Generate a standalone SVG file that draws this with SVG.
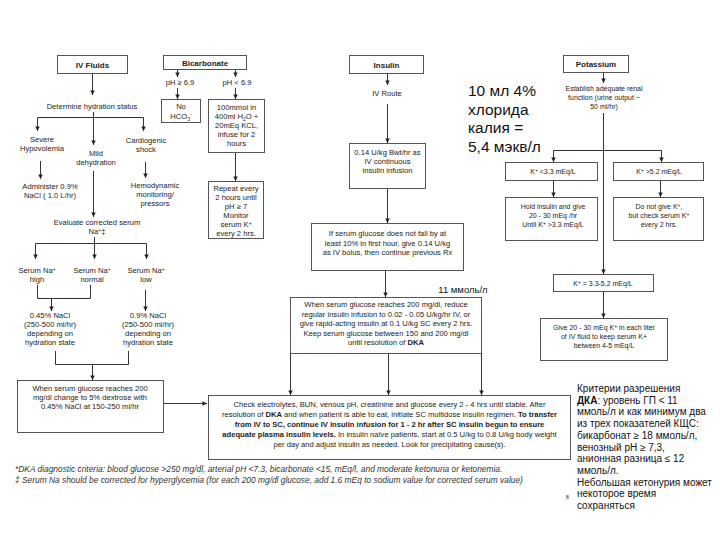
<svg xmlns="http://www.w3.org/2000/svg" width="720" height="540" viewBox="0 0 720 540">
<defs>
<marker id="ah" viewBox="0 0 6 6" refX="6" refY="3" markerWidth="5" markerHeight="4.5" orient="auto" markerUnits="userSpaceOnUse"><path d="M0,0 L6,3 L0,6 z" fill="#222"/></marker>
<style>
.t{font-family:"Liberation Sans",Arial,sans-serif;font-size:7.6px;fill:#222;text-anchor:middle}
.s{font-size:7px}
.h{font-weight:bold;font-size:8px}
.b{font-weight:bold}
.box{fill:#fff;stroke:#555;stroke-width:1}
.ln{fill:none;stroke:#333;stroke-width:1}
.ar{fill:none;stroke:#333;stroke-width:1;marker-end:url(#ah)}
.ru{font-family:"Liberation Sans",Arial,sans-serif;fill:#111}
.fn{font-family:"Liberation Sans",Arial,sans-serif;font-size:8.4px;font-style:italic;fill:#333}
</style>
</defs>
<rect width="720" height="540" fill="#fff"/>

<g id="connectors">
<!-- IV fluids -->
<line class="ar" x1="92.5" y1="73" x2="92.5" y2="95"/>
<line class="ln" x1="37.5" y1="117.5" x2="143.5" y2="117.5"/>
<line class="ar" x1="37.5" y1="117.5" x2="37.5" y2="131"/>
<line class="ar" x1="93.5" y1="112" x2="93.5" y2="145"/>
<line class="ar" x1="143.5" y1="117.5" x2="143.5" y2="131"/>
<line class="ar" x1="40.5" y1="161" x2="40.5" y2="179"/>
<line class="ar" x1="145.5" y1="162" x2="145.5" y2="178"/>
<line class="ar" x1="93.5" y1="171" x2="93.5" y2="217"/>
<line class="ln" x1="35.5" y1="243.5" x2="146.5" y2="243.5"/>
<line class="ar" x1="35.5" y1="243.5" x2="35.5" y2="259"/>
<line class="ar" x1="94.5" y1="237" x2="94.5" y2="259"/>
<line class="ar" x1="146.5" y1="243.5" x2="146.5" y2="259"/>
<polyline class="ln" points="37.5,285 37.5,298.5 90.5,298.5 90.5,285"/>
<line class="ar" x1="51.5" y1="298.5" x2="51.5" y2="311"/>
<line class="ar" x1="145.5" y1="290" x2="145.5" y2="311"/>
<polyline class="ln" points="55.5,351 55.5,364.5 128.5,364.5 128.5,351"/>
<line class="ar" x1="92.5" y1="364.5" x2="92.5" y2="380"/>
<line class="ar" x1="164" y1="403.5" x2="207" y2="403.5"/>
<!-- Bicarbonate -->
<line class="ar" x1="177.5" y1="70" x2="177.5" y2="77"/>
<line class="ar" x1="177.5" y1="88" x2="177.5" y2="99"/>
<line class="ar" x1="235.5" y1="70" x2="235.5" y2="77"/>
<line class="ar" x1="235.5" y1="88" x2="235.5" y2="99"/>
<line class="ar" x1="235.5" y1="152" x2="235.5" y2="181"/>
<!-- Insulin -->
<line class="ar" x1="387.5" y1="73" x2="387.5" y2="85"/>
<line class="ar" x1="387.5" y1="104" x2="387.5" y2="143"/>
<line class="ar" x1="387.5" y1="188" x2="387.5" y2="223"/>
<line class="ar" x1="385.5" y1="270" x2="385.5" y2="297"/>
<line class="ar" x1="290.5" y1="354" x2="290.5" y2="395"/>
<line class="ar" x1="388.5" y1="354" x2="388.5" y2="395"/>
<line class="ar" x1="481.5" y1="354" x2="481.5" y2="395"/>
<!-- Potassium -->
<line class="ar" x1="603.5" y1="72" x2="603.5" y2="83"/>
<line class="ar" x1="603.5" y1="113" x2="603.5" y2="274"/>
<line class="ln" x1="553.5" y1="150.5" x2="661.5" y2="150.5"/>
<line class="ar" x1="553.5" y1="150.5" x2="553.5" y2="162"/>
<line class="ar" x1="661.5" y1="150.5" x2="661.5" y2="162"/>
<line class="ar" x1="553.5" y1="180" x2="553.5" y2="197"/>
<line class="ar" x1="660.5" y1="180" x2="660.5" y2="197"/>
<line class="ar" x1="603.5" y1="292" x2="603.5" y2="318"/>
</g>

<!-- IV Fluids column -->
<g id="iv-fluids"><rect class="box" x="57.5" y="55.5" width="70" height="18"/><text class="t h" x="92.5" y="67.5">IV Fluids</text></g>
<g id="hydration-status"><text class="t" x="92" y="109">Determine hydration status</text></g>
<g id="severe-hypovolemia"><text class="t" x="42" y="142">Severe</text><text class="t" x="42" y="151">Hypovolemia</text></g>
<g id="mild-dehydration"><text class="t" x="96" y="156">Mild</text><text class="t" x="96" y="165">dehydration</text></g>
<g id="cardiogenic-shock"><text class="t" x="146" y="143">Cardiogenic</text><text class="t" x="146" y="152">shock</text></g>
<g id="administer"><text class="t" x="50" y="189">Administer 0.9%</text><text class="t" x="50" y="198">NaCl ( 1.0 L/hr)</text></g>
<g id="hemodynamic"><text class="t" x="155" y="188">Hemodynamic</text><text class="t" x="155" y="197">monitoring/</text><text class="t" x="155" y="206">pressors</text></g>
<g id="evaluate-na"><text class="t" x="97" y="225">Evaluate corrected serum</text><text class="t" x="97" y="234">Na<tspan font-size="5" dy="-2.5">+</tspan><tspan dy="2.5">‡</tspan></text></g>
<g id="na-high"><text class="t" x="37" y="273">Serum Na<tspan font-size="5" dy="-2.5">+</tspan></text><text class="t" x="37" y="282">high</text></g>
<g id="na-normal"><text class="t" x="92" y="273">Serum Na<tspan font-size="5" dy="-2.5">+</tspan></text><text class="t" x="92" y="282">normal</text></g>
<g id="na-low"><text class="t" x="146" y="273">Serum Na<tspan font-size="5" dy="-2.5">+</tspan></text><text class="t" x="146" y="282">low</text></g>
<g id="nacl-045"><text class="t" x="50" y="318">0.45% NaCl</text><text class="t" x="50" y="327">(250-500 ml/hr)</text><text class="t" x="50" y="336">depending on</text><text class="t" x="50" y="345">hydration state</text></g>
<g id="nacl-09"><text class="t" x="148" y="318">0.9% NaCl</text><text class="t" x="148" y="327">(250-500 ml/hr)</text><text class="t" x="148" y="336">depending on</text><text class="t" x="148" y="345">hydration state</text></g>
<g id="dextrose"><rect class="box" x="17.5" y="380.5" width="146" height="52"/><text class="t" x="90" y="391">When serum glucose  reaches 200</text><text class="t" x="90" y="400">mg/dl change to 5% dextrose with</text><text class="t" x="90" y="409">0.45% NaCl at 150-250 ml/hr</text></g>

<!-- Bicarbonate column -->
<g id="bicarbonate"><rect class="box" x="163.5" y="55.5" width="83" height="14"/><text class="t h" x="205" y="65.5">Bicarbonate</text></g>
<g id="ph-ge"><text class="t" x="180" y="85">pH ≥ 6.9</text></g>
<g id="ph-lt"><text class="t" x="237" y="85">pH &lt; 6.9</text></g>
<g id="no-hco3"><rect class="box" x="161.5" y="99.5" width="39" height="23"/><text class="t" x="181" y="109">No</text><text class="t" x="181" y="118.5">HCO<tspan font-size="5" dy="2">3</tspan><tspan font-size="5" dy="-5">-</tspan></text></g>
<g id="bicarb-infusion"><rect class="box" x="208.5" y="99.5" width="56" height="53"/><text class="t" x="236.5" y="109.5">100mmol in</text><text class="t" x="236.5" y="118.5">400ml H<tspan font-size="5" dy="2">2</tspan><tspan dy="-2">O +</tspan></text><text class="t" x="236.5" y="127.5">20mEq KCL,</text><text class="t" x="236.5" y="136.5">infuse for 2</text><text class="t" x="236.5" y="145.5">hours</text></g>
<g id="repeat"><rect class="box" x="208.5" y="181.5" width="55" height="57"/><text class="t" x="236" y="191">Repeat every</text><text class="t" x="236" y="200">2 hours until</text><text class="t" x="236" y="209">pH ≥ 7</text><text class="t" x="236" y="218">Monitor</text><text class="t" x="236" y="227">serum K<tspan font-size="5" dy="-2.5">+</tspan></text><text class="t" x="236" y="236">every 2 hrs.</text></g>

<!-- Insulin column -->
<g id="insulin"><rect class="box" x="349.5" y="55.5" width="74" height="18"/><text class="t h" x="386.5" y="67.5">Insulin</text></g>
<g id="iv-route"><text class="t" x="387" y="96">IV Route</text></g>
<g id="insulin-infusion"><rect class="box" x="349.5" y="143.5" width="76" height="45"/><text class="t" x="387.5" y="155">0.14 U/kg Bwt/hr as</text><text class="t" x="387.5" y="164">IV continuous</text><text class="t" x="387.5" y="173">insulin infusion</text></g>
<g id="bolus"><rect class="box" x="311.5" y="223.5" width="152" height="47"/><text class="t" x="387.5" y="236">If serum glucose does not fall by at</text><text class="t" x="387.5" y="245.5">least 10% in first hour, give 0.14 U/kg</text><text class="t" x="387.5" y="255">as IV  bolus, then continue previous Rx</text></g>
<g id="mmol-note"><text class="ru" x="463" y="293" font-size="9.5" text-anchor="middle">11 ммоль/л</text></g>
<g id="glucose-200"><rect class="box" x="290.5" y="297.5" width="191" height="56"/><text class="t" x="386" y="307">When serum glucose reaches 200 mg/dl, reduce</text><text class="t" x="386" y="316.5">regular insulin infusion to 0.02 - 0.05 U/kg/hr IV, or</text><text class="t" x="386" y="326">give rapid-acting insulin at 0.1 U/kg SC every 2 hrs.</text><text class="t" x="386" y="335.5">Keep serum glucose between 150 and 200 mg/dl</text><text class="t" x="386" y="345">until resolution of  <tspan class="b">DKA</tspan></text></g>

<!-- Potassium column -->
<g id="potassium"><rect class="box" x="563.5" y="55.5" width="65" height="17"/><text class="t h" x="596" y="67">Potassium</text></g>
<g id="renal"><text class="t s" x="604" y="91">Establish adequate renal</text><text class="t s" x="604" y="100">function (urine output ~</text><text class="t s" x="604" y="109">50 ml/hr)</text></g>
<g id="k-low"><rect class="box" x="505.5" y="162.5" width="92" height="18"/><text class="t s" x="553" y="174">K<tspan font-size="5" dy="-2.5">+</tspan><tspan dy="2.5"> &lt;3.3 mEq/L</tspan></text></g>
<g id="k-high"><rect class="box" x="613.5" y="162.5" width="90" height="18"/><text class="t s" x="659" y="174">K<tspan font-size="5" dy="-2.5">+</tspan><tspan dy="2.5"> &gt;5.2 mEq/L</tspan></text></g>
<g id="hold-insulin"><rect class="box" x="505.5" y="197.5" width="92" height="43"/><text class="t s" x="553" y="209">Hold insulin and give</text><text class="t s" x="553" y="218">20 - 30 mEq /hr</text><text class="t s" x="553" y="227">Until K<tspan font-size="5" dy="-2.5">+</tspan><tspan dy="2.5"> &gt;3.3 mEq/L</tspan></text></g>
<g id="no-k"><rect class="box" x="613.5" y="197.5" width="90" height="43"/><text class="t s" x="659" y="209">Do not give K<tspan font-size="5" dy="-2.5">+</tspan><tspan dy="2.5">,</tspan></text><text class="t s" x="659" y="218">but check serum K<tspan font-size="5" dy="-2.5">+</tspan></text><text class="t s" x="659" y="227">every 2 hrs.</text></g>
<g id="k-normal"><rect class="box" x="553.5" y="274.5" width="100" height="17"/><text class="t s" x="603" y="286">K<tspan font-size="5" dy="-2.5">+</tspan><tspan dy="2.5"> = 3.3-5.2 mEq/L</tspan></text></g>
<g id="give-k"><rect class="box" x="540.5" y="318.5" width="127" height="42"/><text class="t s" x="604" y="330">Give 20 - 30 mEq K<tspan font-size="5" dy="-2.5">+</tspan><tspan dy="2.5"> in each liter</tspan></text><text class="t s" x="604" y="339">of IV  fluid to keep serum K+</text><text class="t s" x="604" y="348">between 4-5 mEq/L</text></g>
<g id="kcl-note"><text class="ru" font-size="15.5"><tspan x="468" y="96">10 мл 4%</tspan><tspan x="468" y="115">хлорида</tspan><tspan x="468" y="133">калия =</tspan><tspan x="468" y="152">5,4 мэкв/л</tspan></text></g>

<!-- Bottom -->
<g id="check-electrolytes"><rect class="box" x="208.5" y="395.5" width="362" height="64"/>
<text class="t" font-size="7.5" x="389.5" y="407">Check electrolytes, BUN, venous pH, creatinine and glucose every 2 - 4 hrs until stable.  After</text>
<text class="t" font-size="7.5" x="389.5" y="417">resolution of <tspan class="b">DKA</tspan> and when patient is able to eat, initiate SC multidose insulin regimen. <tspan class="b">To transfer</tspan></text>
<text class="t b" font-size="7.5" x="389.5" y="427">from IV to SC, continue IV insulin infusion for 1 - 2 hr after SC insulin begun to ensure</text>
<text class="t" font-size="7.5" x="389.5" y="437"><tspan class="b">adequate plasma insulin levels.</tspan>  In insulin naïve patients, start at 0.5 U/kg to 0.8 U/kg body weight</text>
<text class="t" font-size="7.5" x="389.5" y="447">per day and adjust insulin as needed.  Look for precipitating cause(s).</text></g>
<g id="footnotes"><text class="fn" x="15" y="472">*DKA diagnostic criteria: blood glucose &gt;250 mg/dl, arterial pH &lt;7.3, bicarbonate &lt;15, mEq/l, and moderate ketonuria or ketonemia.</text>
<text class="fn" x="15" y="483">‡ Serum Na should be corrected for hyperglycemia (for each 200 mg/dl glucose, add 1.6 mEq to sodium value for corrected serum value)</text></g>
<g id="resolution-criteria"><text class="ru" font-size="10"><tspan x="577" y="392">Критерии разрешения</tspan><tspan x="577" y="403.7"><tspan font-weight="bold">ДКА</tspan>: уровень ГП &lt; 11</tspan><tspan x="577" y="415.4">ммоль/л и как минимум два</tspan><tspan x="577" y="427.1">из трех показателей КЩС:</tspan><tspan x="577" y="438.8">бикарбонат ≥ 18 ммоль/л,</tspan><tspan x="577" y="450.5">венозный pH ≥ 7,3,</tspan><tspan x="577" y="462.2">анионная разница ≤ 12</tspan><tspan x="577" y="473.9">ммоль/л.</tspan><tspan x="577" y="485.6">Небольшая кетонурия может</tspan><tspan x="577" y="497.3">некоторое время</tspan><tspan x="577" y="509">сохраняться</tspan></text></g>
<g id="page-number"><text class="ru" x="566" y="499" font-size="5" fill="#666">8</text></g>
</svg>
